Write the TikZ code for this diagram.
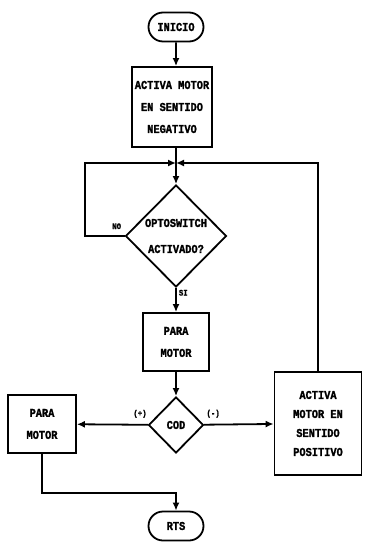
\documentclass[tikz,border=0pt]{standalone}
\usepackage{fontspec}
\setmonofont[FakeStretch=0.86, BoldFeatures={FakeBold=1.6}]{Liberation Mono}
\usetikzlibrary{shapes.geometric,shapes.misc,arrows.meta}

\newcommand{\flowfont}{\ttfamily\bfseries\fontsize{12}{22}\selectfont}
\newcommand{\lblfont}{\ttfamily\bfseries\fontsize{8.5}{9}\selectfont}

\begin{document}
\begin{tikzpicture}[x=1pt, y=-1pt, line width=1.8pt, >={Latex[length=8pt,width=7pt]},
  box/.style={draw, rectangle, inner sep=0pt, align=center, font=\flowfont},
  cond/.style={draw, diamond, inner sep=0pt, align=center, font=\flowfont},
  term/.style={draw, rounded rectangle, inner sep=0pt, minimum width=55pt,
    minimum height=29pt, font=\flowfont},
  lbl/.style={font=\lblfont, inner sep=1pt}]
  \useasboundingbox (0,0) rectangle (364,545);

  % main column
  \node[term] (inicio) at (176,27) {INICIO};
  \node[box, minimum width=80pt, minimum height=80pt] (neg) at (172,107)
    {ACTIVA MOTOR\\EN SENTIDO\\NEGATIVO};
  \coordinate (j) at (176,163);
  \node[cond, minimum width=101pt, minimum height=102pt] (opto) at (176,236)
    {OPTOSWITCH\\[4pt]ACTIVADO?};
  \node[box, minimum width=66pt, minimum height=58pt] (para) at (176,342)
    {PARA\\MOTOR};
  \node[cond, minimum width=55pt, minimum height=56pt] (cod) at (176,425) {COD};

  % both branches
  \node[box, minimum width=68pt, minimum height=58pt] (parab) at (42,424)
    {PARA\\MOTOR};
  \node[box, minimum width=87pt, minimum height=103pt,
    font=\ttfamily\bfseries\fontsize{12}{19}\selectfont] (pos) at (318,423.5)
    {ACTIVA\\MOTOR EN\\SENTIDO\\POSITIVO};
  \node[term] (rts) at (176,526) {RTS};

  \coordinate (noc) at (85,163);
  \coordinate (m) at (176,493);

  \draw[->] (inicio) -- (inicio |- neg.north);
  \draw (neg.south -| j) -- (j);
  \draw[->] (j) -- (opto);
  \draw[->] (opto.west) -| node[lbl, pos=0.1, above=5pt] {NO} (noc) -- (j);
  \draw[->] (pos.north) |- (j);
  \draw[->] (opto) -- node[lbl, pos=0.2, right=1pt] {SI} (para);
  \draw[->] (para) -- (cod);
  \draw[->] (cod) -- node[lbl, pos=0.11, above=5pt] {(+)} (parab);
  \draw[->] (cod) -- node[lbl, pos=0.13, above=5pt] {(-)} (pos);
  \draw[->] (parab) |- (m) -- (rts);
\end{tikzpicture}
\end{document}
